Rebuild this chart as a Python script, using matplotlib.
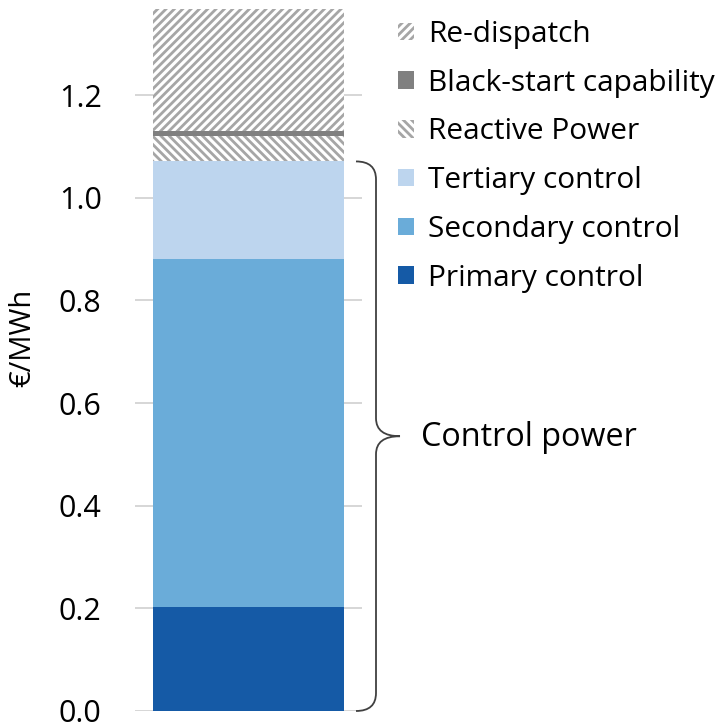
import matplotlib
matplotlib.use('Agg')
import matplotlib.pyplot as plt
from matplotlib.patches import Patch, PathPatch
from matplotlib.path import Path
from matplotlib.transforms import blended_transform_factory

# stacked components, bottom to top (EUR/MWh)
categories = ['Primary control', 'Secondary control', 'Tertiary control',
              'Reactive Power', 'Black-start capability', 'Re-dispatch']
values = [0.203, 0.678, 0.190, 0.049, 0.011, 0.238]
colors = ['#155aa6', '#6aacd9', '#bdd5ee', 'white', '#808080', 'white']
hatches = [None, None, None, '\\\\\\\\', None, '////']
yticks = [0.0, 0.2, 0.4, 0.6, 0.8, 1.0, 1.2]
brace_label = 'Control power'

plt.rcParams['font.family'] = ['Open Sans', 'DejaVu Sans']
plt.rcParams['hatch.linewidth'] = 2.0

fig = plt.figure(figsize=(7.25, 7.24), dpi=100)
ax = fig.add_axes([135/725, 1-711/724, 227/725, 703/724])

bottom = 0
handles = []
for cat, v, c, h in zip(categories, values, colors, hatches):
    if h:
        ax.bar(0, v, bottom=bottom, width=0.84, color='white', edgecolor='#a6a6a6',
               hatch=h, linewidth=0)
        hd = Patch(facecolor='white', edgecolor='#a6a6a6', hatch=h, linewidth=0, label=cat)
    else:
        ax.bar(0, v, bottom=bottom, width=0.84, color=c, linewidth=0)
        hd = Patch(facecolor=c, linewidth=0, label=cat)
    handles.append(hd)
    bottom += v

ax.set_xlim(-0.5, 0.5)
ax.set_ylim(0, 1.37)
ax.set_yticks(yticks)
ax.set_yticklabels([f'{t:.1f}' for t in yticks], fontsize=22)
ax.yaxis.grid(True, color='#d0d0d0', linewidth=1.2)
ax.set_axisbelow(True)
ax.tick_params(axis='y', length=0, pad=24)
ax.set_xticks([])
for s in ax.spines.values():
    s.set_visible(False)
ax.set_ylabel('€/MWh', fontsize=21)
ax.yaxis.set_label_coords(-98/227, (711-338)/703)

leg = fig.legend(handles=handles[::-1], loc='upper left', bbox_to_anchor=(398/725, 1-20/724),
                 frameon=False, fontsize=21.5, handlelength=0.52, handleheight=0.52,
                 handletextpad=0.5, labelspacing=0.66, borderaxespad=0, borderpad=0)

# curly brace next to control-power segments
ctrl_top = sum(values[:3])
bt = blended_transform_factory(fig.transFigure, ax.transData)
x0, x1, xt = 356/725, 376/725, 400/725
ymid = ctrl_top / 2
r = 0.035
verts = [(x0, ctrl_top), (x1, ctrl_top), (x1, ctrl_top - r),
         (x1, ymid + r), (x1, ymid), (xt, ymid),
         (x1, ymid), (x1, ymid - r),
         (x1, r), (x1, 0.0), (x0, 0.0)]
codes = [Path.MOVETO, Path.CURVE3, Path.CURVE3,
         Path.LINETO, Path.CURVE3, Path.CURVE3,
         Path.CURVE3, Path.CURVE3,
         Path.LINETO, Path.CURVE3, Path.CURVE3]
brace = PathPatch(Path(verts, codes), transform=bt, fill=False, edgecolor='#404040',
                  linewidth=1.3, clip_on=False)
fig.add_artist(brace)
fig.text(421/725, 1-437/724, brace_label, fontsize=23.3, va='center', ha='left')

fig.savefig('out.png', dpi=100)
